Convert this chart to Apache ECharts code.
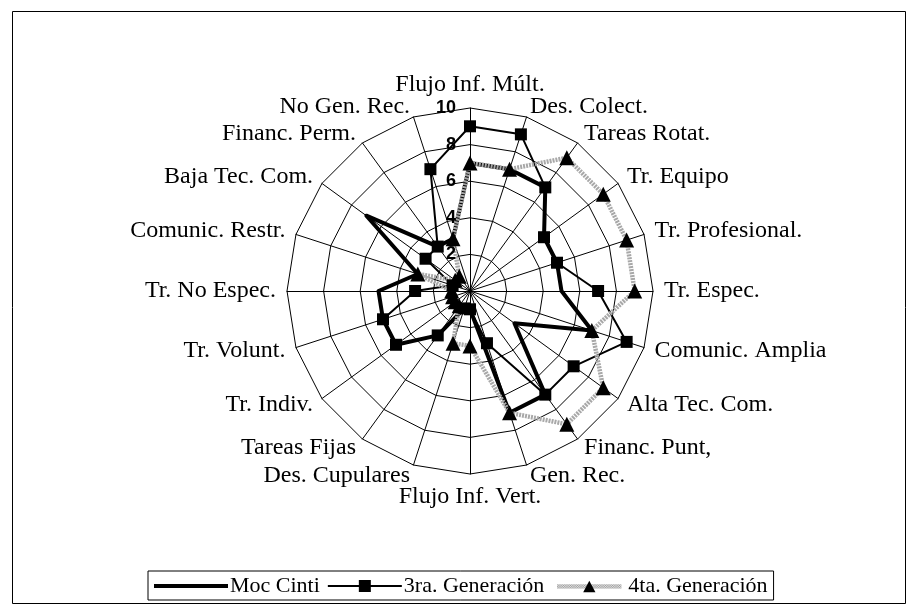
<!DOCTYPE html>
<html lang="es">
<head>
    <meta charset="UTF-8">
    <title>Radar generaciones</title>
    <script src="https://cdn.jsdelivr.net/npm/echarts@6/dist/echarts.min.js"></script>
    <style>
        html, body { margin: 0; padding: 0; background: #fff; }
        #main { width: 917px; height: 615px; }
    </style>
</head>
<body>
    <div id="main"></div>
<script>
    // categorias en sentido horario desde arriba
    var categorias = ['Flujo Inf. Múlt.', 'Des. Colect.', 'Tareas Rotat.', 'Tr. Equipo', 'Tr. Profesional.',
        'Tr. Espec.', 'Comunic. Amplia', 'Alta Tec. Com.', 'Financ. Punt,', 'Gen. Rec.',
        'Flujo Inf. Vert.', 'Des. Cupulares', 'Tareas Fijas', 'Tr. Indiv.', 'Tr. Volunt.',
        'Tr. No Espec.', 'Comunic. Restr.', 'Baja Tec. Com.', 'Financ. Perm.', 'No Gen. Rec.'];
    var mocCinti = [7, 7, 7, 5, 5, 5, 7, 3, 7, 7, 1, 1, 3, 5, 5, 5, 3, 7, 3, 3];
    var tercera  = [9, 9, 7, 5, 5, 7, 9, 7, 7, 3, 1, 1, 3, 5, 5, 3, 1, 3, 3, 7];
    var cuarta   = [7, 7, 9, 9, 9, 9, 7, 9, 9, 7, 3, 3, 1, 1, 1, 1, 3, 1, 1, 3];
    var maxValor = 10;
    var nombres = ['Moc Cinti', '3ra. Generación', '4ta. Generación'];

    // el radar de echarts avanza en sentido antihorario: invertimos el orden
    function horario(arr) {
        return [arr[0]].concat(arr.slice(1).reverse());
    }

    var serif = 'Liberation Serif';
    var iconTri = 'image://data:image/svg+xml;utf8,' + encodeURIComponent(
        '<svg xmlns="http://www.w3.org/2000/svg" width="74" height="16">' +
        '<defs><pattern id="p" width="2" height="2" patternUnits="userSpaceOnUse">' +
        '<rect width="2" height="2" fill="#e6e6e6"/><rect width="1" height="1" fill="#9a9a9a"/>' +
        '<rect x="1" y="1" width="1" height="1" fill="#9a9a9a"/></pattern></defs>' +
        '<rect x="0" y="6" width="74" height="5" fill="url(#p)"/>' +
        '<path d="M30 15 L37 2 L44 15 Z" fill="#000"/></svg>');

    var myChart = echarts.init(document.getElementById('main'));

    var option = {
        backgroundColor: '#fff',
        animation: false,
        graphic: [{
            type: 'rect',
            shape: { x: 12.5, y: 11.5, width: 893, height: 592 },
            style: { fill: 'none', stroke: '#000', lineWidth: 1 }
        }],
        legend: {
            left: 148,
            top: 571,
            data: [
                { name: nombres[0], icon: 'path://M0,0h74v4H0z' },
                { name: nombres[1], icon: 'path://M0,6h31v2H0z M31,1h12v12H31z M43,6h31v2H43z' },
                { name: nombres[2], icon: iconTri }
            ],
            itemWidth: 74,
            itemHeight: 14,
            itemGap: 8,
            padding: [4, 6, 3, 6],
            borderColor: '#000',
            borderWidth: 1,
            borderRadius: 0,
            textStyle: { fontFamily: serif, fontSize: 22, color: '#000', padding: [0, 0, 0, -3] },
            selectedMode: false
        },
        radar: {
            center: [470, 291],
            radius: 183,
            startAngle: 90,
            shape: 'polygon',
            splitNumber: 5,
            indicator: horario(categorias).map(function (c) { return { name: c, min: 0, max: maxValor }; }),
            axisName: { color: '#000', fontFamily: serif, fontSize: 24 },
            nameGap: 11,
            axisLine: { lineStyle: { color: '#000', width: 1 } },
            splitLine: { lineStyle: { color: '#000', width: 1 } },
            splitArea: { show: false }
        },
        polar: { center: [470, 291], radius: 183 },
        angleAxis: { show: false, startAngle: 90, min: 0, max: 360 },
        radiusAxis: {
            min: 0,
            max: maxValor,
            interval: 2,
            z: 10,
            axisLine: { show: false },
            axisTick: { show: false },
            splitLine: { show: false },
            axisLabel: {
                showMinLabel: false,
                color: '#000',
                fontFamily: 'Liberation Sans',
                fontWeight: 'bold',
                fontSize: 18,
                margin: 14
            }
        },
        series: [{
            type: 'radar',
            z: 3,
            data: [{
                name: nombres[0],
                value: horario(mocCinti),
                symbol: 'none',
                lineStyle: { color: '#000', width: 4 },
                itemStyle: { color: '#000' }
            }, {
                name: nombres[1],
                value: horario(tercera),
                symbol: 'rect',
                symbolSize: 12,
                lineStyle: { color: '#000', width: 2 },
                itemStyle: { color: '#000' }
            }, {
                name: nombres[2],
                value: horario(cuarta),
                symbol: 'triangle',
                symbolSize: 15,
                lineStyle: { color: '#a8a8a8', width: 4.5, type: [2, 1] },
                itemStyle: { color: '#000' }
            }]
        }]
    };

    myChart.setOption(option);
</script>
</body>
</html>
